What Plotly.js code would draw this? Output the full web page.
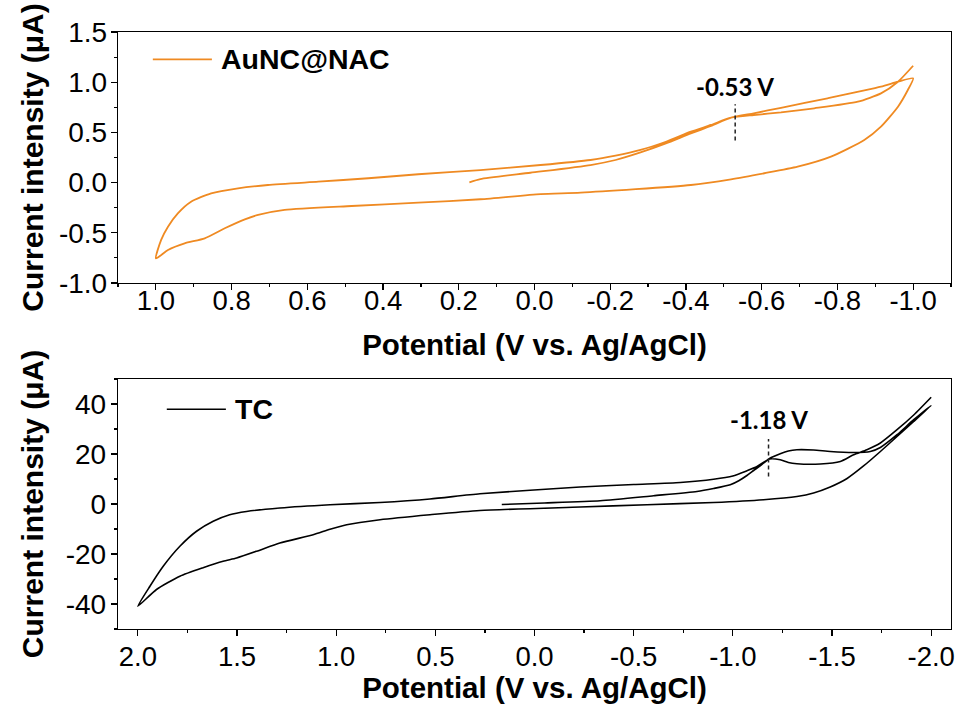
<!DOCTYPE html>
<html>
<head>
<meta charset="utf-8">
<script src="https://cdn.plot.ly/plotly-3.0.1.min.js"></script>
<style>html,body{margin:0;padding:0;background:#fff;}#chart{width:957px;height:704px;}</style>
</head>
<body>
<div id="chart"></div>
<script>
// ---- Top panel: AuNC@NAC cyclic voltammogram ----
const topName = 'AuNC@NAC';
const topPotential = [
  0.172, 0.143, 0.011, -0.148, -0.214, -0.280, -0.347, -0.413, -0.466, -0.519, -0.579, -0.651, -0.774, -0.915, -0.960, -1.0,
  -0.986, -0.960, -0.915, -0.871, -0.783, -0.695, -0.607, -0.519, -0.413, -0.122, -0.016, 0.143, 0.307, 0.483, 0.660, 0.730, 0.765, 0.818, 0.871, 0.924, 0.968, 1.0,
  0.986, 0.968, 0.942, 0.907, 0.854, 0.783, 0.704, 0.571, 0.439, 0.307, 0.143, -0.016, -0.148, -0.214, -0.280, -0.347, -0.413, -0.466, -0.519, -0.579, -0.651, -0.739, -0.854, -0.915, -0.960, -1.0
];
const topCurrent = [
  0.003, 0.035, 0.098, 0.175, 0.225, 0.300, 0.390, 0.490, 0.564, 0.646, 0.690, 0.745, 0.840, 0.955, 1.005, 1.039,
  0.922, 0.756, 0.557, 0.424, 0.258, 0.158, 0.093, 0.033, -0.024, -0.100, -0.114, -0.166, -0.200, -0.233, -0.272, -0.322, -0.366, -0.455, -0.555, -0.605, -0.671, -0.755,
  -0.571, -0.439, -0.306, -0.190, -0.107, -0.057, -0.024, 0.009, 0.043, 0.083, 0.125, 0.175, 0.225, 0.268, 0.325, 0.407, 0.507, 0.574, 0.646, 0.673, 0.699, 0.740, 0.806, 0.889, 1.005, 1.164
];

// ---- Bottom panel: TC cyclic voltammogram ----
const botName = 'TC';
const botPotential = [
  0.165, -0.05, -0.331, -0.6, -0.819, -0.903, -0.987, -1.03, -1.071, -1.105, -1.138, -1.185,
  -1.239, -1.28, -1.323, -1.407, -1.491, -1.609, -1.693, -1.744, -1.828, -1.912, -2.0,
  -1.912, -1.828, -1.744, -1.659, -1.576, -1.491, -1.407, -1.323, -1.155, -0.903, -0.567, -0.230, 0.275, 0.527, 0.779, 0.947, 1.031, 1.116, 1.284, 1.401, 1.502, 1.570, 1.671, 1.788, 1.906, 2.0,
  1.939, 1.872, 1.788, 1.704, 1.620, 1.537, 1.452, 1.284, 1.031, 0.779, 0.527, 0.275, -0.230, -0.5, -0.735, -0.903, -1.0, -1.071, -1.122, -1.185,
  -1.239, -1.28, -1.323, -1.441, -1.542, -1.609, -1.676, -1.744, -1.828, -1.912, -2.0
];
const botCurrent = [
  -0.2, 0.4, 1.3, 3.3, 5.0, 6.2, 7.7, 9.3, 11.4, 13.4, 15.3, 18.2,
  20.1, 21.2, 21.7, 21.6, 21.0, 20.6, 21.0, 22.6, 27.7, 33.7, 39.4,
  33.0, 27.0, 21.0, 15.2, 10.2, 6.8, 4.4, 3.0, 1.7, 0.6, -0.3, -1.2, -2.6, -4.3, -6.3, -8.3, -10.1, -12.3, -15.6, -18.9, -21.6, -22.9, -25.5, -28.9, -34.2, -40.9,
  -32.9, -24.9, -16.9, -10.9, -6.9, -4.3, -3.0, -1.6, -0.3, 0.6, 2.0, 4.1, 6.8, 7.8, 8.6, 9.9, 11.2, 13.3, 15.0, 18.0,
  17.7, 16.6, 16.1, 16.0, 17.0, 19.7, 21.7, 24.4, 29.7, 35.6, 42.7
];

// ---- Tick labels ----
const topXTickVals = [1.0, 0.8, 0.6, 0.4, 0.2, 0.0, -0.2, -0.4, -0.6, -0.8, -1.0];
const topXTickText = ['1.0', '0.8', '0.6', '0.4', '0.2', '0.0', '-0.2', '-0.4', '-0.6', '-0.8', '-1.0'];
const topYTickVals = [1.5, 1.0, 0.5, 0.0, -0.5, -1.0];
const topYTickText = ['1.5', '1.0', '0.5', '0.0', '-0.5', '-1.0'];
const botXTickVals = [2.0, 1.5, 1.0, 0.5, 0.0, -0.5, -1.0, -1.5, -2.0];
const botXTickText = ['2.0', '1.5', '1.0', '0.5', '0.0', '-0.5', '-1.0', '-1.5', '-2.0'];
const botYTickVals = [40, 20, 0, -20, -40];
const botYTickText = ['40', '20', '0', '-20', '-40'];

// ---- Peak annotations ----
const peakLabels = ['-0.53 V', '-1.18 V'];
const peakPotentials = [-0.53, -1.18];

const FONT = 'Liberation Sans, Arial, sans-serif';
const ORANGE = '#EF8A22';

const traces = [
  {x: topPotential, y: topCurrent, xaxis: 'x', yaxis: 'y', type: 'scatter', mode: 'lines', name: topName,
   line: {color: ORANGE, width: 1.8, shape: 'spline', smoothing: 0.6}, showlegend: false},
  {x: botPotential, y: botCurrent, xaxis: 'x2', yaxis: 'y2', type: 'scatter', mode: 'lines', name: botName,
   line: {color: '#000000', width: 1.6, shape: 'spline', smoothing: 0.6}, showlegend: false}
];

function axisBase(fs) {
  return {
    showgrid: false, zeroline: false, showline: true, mirror: true,
    linecolor: '#000', linewidth: 1.2,
    ticks: 'outside', ticklen: 6, tickwidth: 1.2, tickcolor: '#000',
    tickmode: 'array',
    tickfont: {family: FONT, size: fs, color: '#000'}
  };
}

const xTitleFont = {family: FONT, size: 29.5, color: '#000'};
const yTitleFont = {family: FONT, size: 30, color: '#000'};

const layout = {
  width: 957, height: 704,
  paper_bgcolor: '#fff', plot_bgcolor: '#fff',
  margin: {l: 118, r: 6, t: 32, b: 75},
  showlegend: false,
  font: {family: FONT, color: '#000'},
  xaxis: Object.assign(axisBase(27.5), {
    domain: [0, 1], anchor: 'y', range: [1.1, -1.1],
    tickvals: topXTickVals, ticktext: topXTickText,
    ticklabelstandoff: -13,
    minor: {tickmode: 'linear', tick0: 0, dtick: 0.1, ticks: 'outside', ticklen: 3, tickwidth: 1.2, tickcolor: '#000'},
    title: {text: '<b>Potential (V vs. Ag/AgCl)</b>', font: xTitleFont, standoff: 19}
  }),
  yaxis: Object.assign(axisBase(28), {
    domain: [0.5796, 1], anchor: 'x', range: [-1.0, 1.5],
    tickvals: topYTickVals, ticktext: topYTickText,
    ticklabelstandoff: -2,
    minor: {tickmode: 'linear', tick0: 0, dtick: 0.25, ticks: 'outside', ticklen: 3, tickwidth: 1.2, tickcolor: '#000'},
    title: {text: '<b>Current intensity (μA)</b>', font: yTitleFont, standoff: 6}
  }),
  xaxis2: Object.assign(axisBase(27.5), {
    domain: [0, 1], anchor: 'y2', range: [2.1, -2.1],
    tickvals: botXTickVals, ticktext: botXTickText,
    ticklabelstandoff: -3,
    minor: {tickmode: 'linear', tick0: 0, dtick: 0.25, ticks: 'outside', ticklen: 3, tickwidth: 1.2, tickcolor: '#000'},
    title: {text: '<b>Potential (V vs. Ag/AgCl)</b>', font: xTitleFont, standoff: 22}
  }),
  yaxis2: Object.assign(axisBase(28), {
    domain: [0, 0.4188], anchor: 'x2', range: [-50, 50],
    tickvals: botYTickVals, ticktext: botYTickText,
    ticklabelstandoff: -1,
    minor: {tickmode: 'linear', tick0: 0, dtick: 10, ticks: 'outside', ticklen: 3, tickwidth: 1.2, tickcolor: '#000'},
    title: {text: '<b>Current intensity (μA)</b>', font: yTitleFont, standoff: 13}
  }),
  shapes: [
    // peak markers (dashed)
    {type: 'line', xref: 'x', yref: 'y', x0: peakPotentials[0], x1: peakPotentials[0], y0: 0.42, y1: 0.78,
     line: {color: '#222', width: 1.5, dash: '4px,3px'}},
    {type: 'line', xref: 'x2', yref: 'y2', x0: peakPotentials[1], x1: peakPotentials[1], y0: 11, y1: 26,
     line: {color: '#222', width: 1.5, dash: '4px,3px'}},
    // legend keys
    {type: 'line', xref: 'x', yref: 'y', x0: 1.008, x1: 0.852, y0: 1.228, y1: 1.228,
     line: {color: ORANGE, width: 1.8}},
    {type: 'line', xref: 'x2', yref: 'y2', x0: 1.854, x1: 1.556, y0: 37.9, y1: 37.9,
     line: {color: '#000', width: 1.6}}
  ],
  annotations: [
    {xref: 'x', yref: 'y', x: peakPotentials[0], y: 0.96, text: '<b>' + peakLabels[0] + '</b>', showarrow: false,
     font: {family: 'Lato, Open Sans, sans-serif', size: 24, color: '#000'}, xanchor: 'center', yanchor: 'middle'},
    {xref: 'x2', yref: 'y2', x: peakPotentials[1], y: 33.7, text: '<b>' + peakLabels[1] + '</b>', showarrow: false,
     font: {family: 'Lato, Open Sans, sans-serif', size: 24, color: '#000'}, xanchor: 'center', yanchor: 'middle'},
    {xref: 'x', yref: 'y', x: 0.833, y: 1.228, text: '<b>' + topName + '</b>', showarrow: false,
     font: {family: FONT, size: 28.5, color: '#000'}, xanchor: 'left', yanchor: 'middle'},
    {xref: 'x2', yref: 'y2', x: 1.521, y: 37.9, text: '<b>' + botName + '</b>', showarrow: false,
     font: {family: FONT, size: 28.5, color: '#000'}, xanchor: 'left', yanchor: 'middle'}
  ]
};

Plotly.newPlot('chart', traces, layout, {displayModeBar: false, staticPlot: true});
</script>
</body>
</html>
